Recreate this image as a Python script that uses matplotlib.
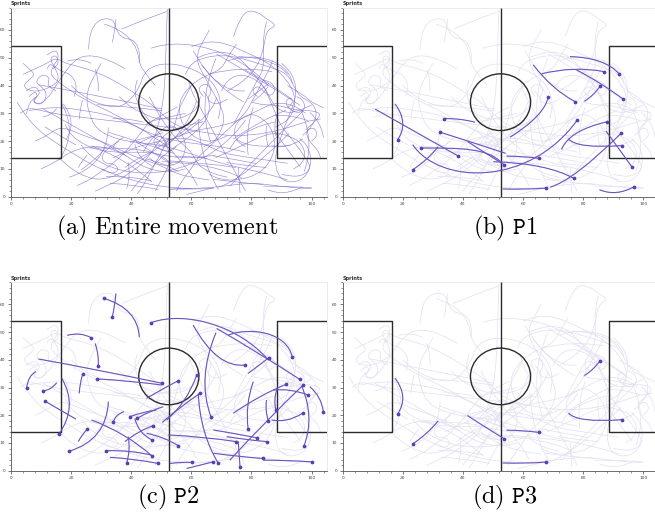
import matplotlib
matplotlib.use("Agg")
import matplotlib.pyplot as plt
from matplotlib.path import Path
from matplotlib.patches import PathPatch, Ellipse
from matplotlib.ticker import MultipleLocator

plt.rcParams['mathtext.fontset'] = 'cm'

# ---------------- data (pitch coordinates, metres) ----------------
pitch_length = 105
pitch_width = 68
box_depth = 16.5
box_bottom = 13.85
box_top = 54.15
circle_radius = 10.0

x_ticks_major = 20
x_ticks_minor = 4
y_ticks_major = 10
y_ticks_minor = 2

# entire movement traces (control points of smooth curves)
movement_paths = [
    [(25.7,53),(26.5,60),(29.5,64),(34,64),(35,60),(37,57),(41,56.5),(43,52),(42.5,48),(45,44),(48,40)],
    [(36.8,60.3),(44,63.5),(51.8,66.6)],
    [(52.0,67.5),(51.6,55),(51.2,40),(50,30),(48,22)],
    [(74,57.6),(76,63.5),(78.5,67),(82,66.5),(85,64),(88.5,61.5),(85,60),(84,53),(82,47),(78,42),(72,38)],
    [(60,54),(66,56),(72,55),(78,52),(86,48),(92,42),(95,35),(93,28),(88,25)],
    [(4,44),(8,46),(12,48),(15,50),(18,48),(22,47),(28,45),(34,42),(40,38),(46,34),(50,30),(54,26),(60,24)],
    [(3,30),(6,32),(10,31),(14,30),(20,29),(28,28),(36,27),(44,26),(52,25),(60,24),(70,22),(80,22),(90,24),(98,27),(103,28)],
    [(5,38),(8,40),(10,37),(7,35),(9,33),(12,35),(15,40),(18,45),(22,50),(27,51),(33,49),(38,46)],
    [(12,51),(15,53),(16,50),(14,47),(13,44),(16,41),(20,38),(26,34),(34,30),(42,25),(48,22),(55,20),(62,19),(70,18),(78,16)],
    [(2,34),(5,29),(9,24),(14,20),(20,16),(26,12),(32,9),(40,6),(48,4),(56,3),(64,3),(72,4),(80,5),(88,4),(96,3),(100,3)],
    [(16,14),(20,10),(25,7),(30,6),(36,8),(42,12),(48,17),(52,20),(56,22),(62,24),(68,25),(75,27),(82,31),(88,34),(94,33),(98,30)],
    [(20,40),(24,36),(30,33),(36,32),(40,35),(43,40),(44,44),(47,47),(52,48),(58,47),(64,44),(68,40),(70,34),(69,28)],
    [(62,50),(67,52),(72,52),(76,50),(80,45),(84,40),(86,35),(88,30),(90,25),(94,20),(98,14),(100,10),(96,7),(90,8)],
    [(58,44),(60,48),(64,50),(70,51),(76,50),(82,48),(88,46),(92,44),(94,40),(96,36),(100,34),(102,30),(100,25),(97,22)],
    [(70,38),(72,42),(76,44),(80,43),(84,40),(86,36),(88,32),(92,30),(96,31),(100,33)],
    [(30,48),(28,44),(26,40),(25,35),(26,30),(28,25),(32,22),(38,20),(46,19),(52,18),(58,16),(64,14),(70,12),(78,10),(86,8),(92,6)],
    [(8,20),(12,22),(16,25),(20,24),(24,22),(30,20),(36,17),(42,14),(48,12),(52,10),(56,8),(60,7),(66,6)],
    [(48,2),(50,6),(52,10),(53,14),(52,18),(50,22),(47,26),(44,30),(42,34),(41,38),(42,42)],
    [(55,2),(57,6),(60,10),(62,14),(66,18),(70,22),(74,26),(78,30),(80,34),(82,38),(84,42),(86,46),(87,49)],
    [(40,2),(42,5),(45,8),(48,12),(52,16),(56,19),(60,22),(64,26),(66,30),(66,35),(64,38)],
    [(62,4),(60,8),(57,12),(54,16),(51,19),(48,21),(44,24),(40,26),(36,28),(30,30),(24,31),(18,32),(12,32),(6,31)],
    [(90,48),(92,46),(94,43),(95,38),(94,33),(92,28),(90,22),(88,16),(88,10),(90,6),(94,5),(98,7),(100,12),(99,18),(96,21)],
    [(66,8),(70,6),(76,6),(82,8),(86,12),(88,18),(87,24),(84,28),(80,30),(76,28),(74,24),(75,20),(78,18)],
    [(44,16),(46,20),(50,24),(53,26),(56,24),(58,20),(58,16),(56,12),(52,11),(48,12),(46,14)],
    [(34,14),(38,16),(42,18),(46,19),(50,20),(54,21),(58,21),(62,20),(66,18),(70,16),(74,15),(80,14),(86,13),(92,12)],
    [(22,4),(26,6),(30,9),(34,12),(38,16),(41,20),(44,24),(46,27),(50,28),(54,29),(58,30)],
    [(60,40),(58,36),(56,32),(55,28),(54,24),(52,20),(50,16),(48,12),(46,8),(44,4),(42,1)],
    [(75,55),(72,50),(70,46),(66,44),(62,42),(58,38),(56,34),(56,30),(57,26),(60,22),(64,20),(68,20),(72,22)],
    [(98,24),(100,26),(102,28),(103,30),(100,31),(96,31),(92,32),(88,33),(84,33),(80,34)],
    [(66,60),(64,56),(62,52),(62,48),(64,44),(66,40),(68,36),(70,32),(71,28),(70,24),(68,20),(64,18)],
    [(85,63),(84,58),(84,52),(84,46),(82,42),(80,38),(78,34),(76,30),(74,26)],
    [(4,48),(6,46),(8,44),(6,42),(4,40),(6,38),(10,38),(14,40),(16,42),(15,46),(13,48),(12,46)],
    [(10,10),(14,12),(18,15),(22,17),(26,18),(30,18),(34,17),(38,15),(42,12),(46,10),(50,9),(54,9),(58,10)],
    [(28,2),(32,4),(36,6),(40,9),(44,12),(46,15),(48,18),(50,21),(52,23),(56,25),(60,26),(64,27)],
    [(68,14),(72,16),(76,18),(80,20),(84,22),(88,23),(92,22),(96,20),(98,16),(97,12),(94,10)],
    [(78,2),(76,6),(74,10),(72,14),(70,18),(68,22),(66,26),(64,30),(62,34),(60,38),(59,42)],
    [(36,36),(40,32),(44,30),(48,28),(52,28),(56,28),(60,30),(62,32),(63,36)],
    [(18,26),(20,22),(24,19),(28,17),(34,16),(40,16),(46,16),(50,15),(56,14),(62,14),(68,15)],
    [(92,40),(95,38),(98,36),(100,34),(102,33),(104,32)],
    [(46,36),(48,32),(50,28),(52,25),(54,22),(56,20),(58,18),(60,16),(62,12),(64,10),(68,8),(72,7)],
    [(6,36),(8,38),(9,36),(7,34),(10,33),(12,36),(11,39),(8,41),(10,44),(13,43),(12,40),(15,38)],
    [(14,46),(16,48),(15,51),(13,50),(14,47),(17,45),(20,44),(22,40),(21,36)],
    [(92,32),(94,34),(93,36),(91,34),(93,31),(96,30),(98,32),(97,35),(95,36)],
    [(82,36),(80,38),(82,40),(84,38),(86,36),(88,38),(87,41),(84,42)],
    [(48,20),(50,18),(52,19),(51,21),(49,22),(47,20),(49,17),(53,16),(55,18)],
    [(30,10),(34,8),(36,10),(34,12),(31,12),(30,15),(33,18),(36,20)],
    [(64,36),(62,39),(65,41),(67,38),(65,35),(68,33),(72,35)],
    [(100,20),(102,22),(101,25),(98,24),(99,20),(102,17),(103,14)],
]

# sprints of phase P1: start, control point(s), end (end marked with a dot)
p1_sprints = [
    [(10.8,31.5),(38.5,14.6)],
    [(17.4,33.4),(22.1,26.6),(18.3,20.5)],
    [(23.3,18.7),(32.4,4.2),(62.3,3.6),(78.1,27.7)],
    [(31.8,18.0),(28.0,13.0),(23.3,9.7)],
    [(41.5,19.9),(47.9,15.3),(53.8,11.5)],
    [(52.3,12.8),(48.0,17.2),(40.0,17.6),(26.1,17.5)],
    [(44.0,26.8),(39.0,28.2),(33.8,28.1)],
    [(54.2,15.6),(43.0,19.6),(32.4,23.2)],
    [(54.5,14.6),(60.0,14.6),(65.3,13.8)],
    [(50.1,12.6),(67.8,12.0),(76.9,6.6)],
    [(55.7,21.4),(67.0,29.1),(68.4,35.8)],
    [(63.4,47.4),(69.8,38.4),(77.3,34.2)],
    [(66.2,44.2),(76.9,47.1),(86.9,45.0)],
    [(75.6,50.4),(87.4,50.0),(92.0,44.1)],
    [(77.8,45.6),(86.0,41.0),(93.3,35.1)],
    [(80.4,34.3),(83.4,36.3),(85.6,39.7)],
    [(72.8,17.0),(75.3,23.8),(87.8,26.9)],
    [(75.1,20.8),(78.0,17.2),(93.0,18.4)],
    [(87.6,23.6),(96.3,10.6)],
    [(69.0,3.4),(77.1,6.1),(92.6,22.8)],
    [(53.2,2.8),(60.5,2.5),(67.6,3.1)],
    [(85.4,2.5),(91.0,0.0),(97.0,3.6)],
]

# sprints of phase P2
p2_sprints = [
    [(42.7,48.1),(42.2,58.4),(31.0,62.1)],
    [(34.9,63.9),(34.6,59.7),(33.7,55.5)],
    [(18.7,48.8),(22.9,50.1),(26.6,48.0)],
    [(28.0,45.9),(29.3,41.7),(29.0,37.9)],
    [(9.1,40.3),(29.6,36.3),(50.3,31.5)],
    [(85.6,39.9),(76.2,51.9),(58.4,57.9),(46.6,53.4)],
    [(68.4,51.3),(82.8,42.3),(96.1,32.9)],
    [(72.3,48.9),(79.5,51.9),(91.8,50.1),(93.6,40.9)],
    [(60.6,52.5),(68.6,36.9),(77.8,38.1)],
    [(68.2,49.8),(61.8,33.2),(66.5,19.5)],
    [(78.9,35.1),(83.4,38.7),(85.7,40.7)],
    [(8.3,35.7),(5.8,34.5),(5.2,29.9)],
    [(15.2,31.7),(13.0,28.8),(10.5,28.8)],
    [(21.6,18.6),(16.3,21.9),(11.3,25.1)],
    [(16.9,33.3),(22.4,23.1),(15.9,13.1)],
    [(22.7,27.9),(22.9,31.5),(23.8,34.7)],
    [(50.1,30.9),(39.6,32.5),(28.5,33.1)],
    [(45.1,26.1),(50.7,29.7),(55.4,32.3)],
    [(32.4,24.9),(31.8,11.1),(19.3,7.0)],
    [(22.4,10.5),(23.5,12.9),(25.4,15.0)],
    [(37.6,21.3),(34.6,20.2),(34.0,17.4)],
    [(48.4,21.9),(44.0,21.3),(39.6,19.5)],
    [(50.7,23.1),(46.2,21.6),(42.0,18.9)],
    [(37.9,10.5),(42.9,14.7),(47.3,16.2)],
    [(41.2,18.9),(42.3,13.5),(46.9,11.1)],
    [(46.8,5.6),(39.6,7.5),(31.6,7.2)],
    [(26.8,18.3),(38.5,13.5),(46.8,5.4)],
    [(32.9,4.8),(40.7,4.4),(49.0,2.6)],
    [(39.0,12.3),(39.8,7.5),(38.5,2.9)],
    [(45.1,13.5),(50.7,12.3),(55.7,9.0)],
    [(52.9,2.6),(56.8,3.2),(60.1,3.0)],
    [(58.4,0.8),(62.9,2.0),(67.3,3.2)],
    [(80.6,32.1),(77.8,23.7),(78.9,15.0)],
    [(52.3,12.9),(64.0,12.3),(74.8,10.5)],
    [(67.3,14.7),(73.9,13.5),(81.7,11.9)],
    [(71.7,12.3),(78.4,11.1),(85.0,10.5)],
    [(75.6,10.5),(75.9,5.6),(76.2,1.4)],
    [(67.3,6.3),(76.2,5.0),(83.9,4.4)],
    [(83.9,3.8),(91.7,3.8),(100.0,3.2)],
    [(85.0,25.5),(84.5,21.9),(85.6,18.0)],
    [(88.4,29.1),(87.3,25.5),(88.1,21.9)],
    [(73.9,20.7),(82.8,27.3),(91.4,31.1)],
    [(86.7,18.3),(91.7,17.1),(97.0,20.7)],
    [(96.7,30.5),(101.1,19.5),(97.5,9.0)],
    [(99.4,30.3),(103.3,26.7),(103.9,21.3)],
    [(87.3,29.1),(93.0,29.7),(98.9,27.3)],
    [(72.8,3.8),(85.0,18.3),(97.2,30.9)],
    [(50.3,17.4),(56.2,23.1),(62.9,27.9)],
    [(51.8,18.3),(58.4,24.3),(61.8,34.5)],
    [(62.3,27.9),(62.9,13.5),(69.0,2.6)],
]

# sprints of phase P3 (a subset of the P1 sprints)
p3_from_p1 = [1, 3, 4, 8, 15, 17, 20]

captions = [r'$\mathrm{(a)\ Entire\ movement}$', r'$\mathrm{(b)}\ \mathtt{P1}$',
            r'$\mathrm{(c)}\ \mathtt{P2}$', r'$\mathrm{(d)}\ \mathtt{P3}$']

# ---------------- styling ----------------
LINE_DARK = '#6b52c2'
LINE_ALL = '#7a62c9'
DOT = '#5a3fb5'
FADED = '#e4e1f1'
PITCH = '#2b2b2b'


def smooth_path(pts):
    verts = [pts[0]]
    codes = [Path.MOVETO]
    if len(pts) == 2:
        verts.append(pts[1]); codes.append(Path.LINETO)
        return Path(verts, codes)
    mids = [((a[0] + b[0]) / 2, (a[1] + b[1]) / 2) for a, b in zip(pts[:-1], pts[1:])]
    verts.append(mids[0]); codes.append(Path.LINETO)
    for i in range(1, len(pts) - 1):
        verts += [pts[i], mids[i]]
        codes += [Path.CURVE3, Path.CURVE3]
    verts.append(pts[-1]); codes.append(Path.LINETO)
    return Path(verts, codes)


def sprint_path(pts):
    if len(pts) == 2:
        return Path(pts, [Path.MOVETO, Path.LINETO])
    if len(pts) == 3:
        return Path(pts, [Path.MOVETO, Path.CURVE3, Path.CURVE3])
    return Path(pts, [Path.MOVETO, Path.CURVE4, Path.CURVE4, Path.CURVE4])


def setup_axes(ax):
    ax.set_xlim(0, pitch_length)
    ax.set_ylim(0, pitch_width)
    ax.xaxis.set_major_locator(MultipleLocator(x_ticks_major))
    ax.xaxis.set_minor_locator(MultipleLocator(x_ticks_minor))
    ax.yaxis.set_major_locator(MultipleLocator(y_ticks_major))
    ax.yaxis.set_minor_locator(MultipleLocator(y_ticks_minor))
    ax.tick_params(which='major', length=2.5, width=0.5, labelsize=3.2,
                   colors='#444444', pad=1.5)
    ax.tick_params(which='minor', length=1.3, width=0.4, colors='#444444')
    for s in ['left', 'bottom']:
        ax.spines[s].set_color('#555555'); ax.spines[s].set_linewidth(0.6)
    for s in ['top', 'right']:
        ax.spines[s].set_color('#e8e8e8'); ax.spines[s].set_linewidth(0.6)
    ax.text(0.0, 1.008, 'Sprints', transform=ax.transAxes, fontsize=3.6,
            fontweight='bold', ha='left', va='bottom', color='#333333')


def draw_pitch(ax):
    kw = dict(color=PITCH, lw=1.0, zorder=3, solid_capstyle='butt')
    ax.plot([pitch_length / 2, pitch_length / 2], [0, pitch_width], **kw)
    ax.plot([0, box_depth, box_depth, 0], [box_top, box_top, box_bottom, box_bottom], **kw)
    ax.plot([pitch_length, pitch_length - box_depth, pitch_length - box_depth, pitch_length],
            [box_top, box_top, box_bottom, box_bottom], **kw)
    ax.add_patch(Ellipse((pitch_length / 2, pitch_width / 2), 2 * circle_radius,
                         2 * circle_radius * 1.02, fill=False, ec=PITCH, lw=1.0, zorder=3))


def draw_background(ax, color, lw, alpha):
    for pts in movement_paths:
        ax.add_patch(PathPatch(smooth_path(pts), fill=False, ec=color, lw=lw,
                               alpha=alpha, zorder=1))
    for pts in p1_sprints + p2_sprints:
        ax.add_patch(PathPatch(sprint_path(pts), fill=False, ec=color, lw=lw,
                               alpha=alpha, zorder=1))


def draw_sprints(ax, sprints):
    for pts in sprints:
        ax.add_patch(PathPatch(sprint_path(pts), fill=False, ec=LINE_DARK, lw=0.8, zorder=4))
        ax.plot([pts[-1][0]], [pts[-1][1]], 'o', ms=1.7, color=DOT, mec=DOT, zorder=5)


fig = plt.figure(figsize=(6.55, 5.20), dpi=100)
W, H = 655.0, 520.0
pxu_x = 3.006
top_row = dict(bottom=(H - 196.7) / H, height=68 * 2.78 / H)
bot_row = dict(bottom=(H - 470.7) / H, height=68 * 2.773 / H)
width = pitch_length * pxu_x / W
positions = [
    [11.0 / W, top_row['bottom'], width, top_row['height']],
    [342.7 / W, top_row['bottom'], width, top_row['height']],
    [11.0 / W, bot_row['bottom'], width, bot_row['height']],
    [342.7 / W, bot_row['bottom'], width, bot_row['height']],
]
axes = [fig.add_axes(p) for p in positions]

# (a) entire movement
draw_background(axes[0], LINE_ALL, 0.45, 0.75)
# (b)-(d) faded movement + sprints
for ax in axes[1:]:
    draw_background(ax, FADED, 0.55, 1.0)
draw_sprints(axes[1], p1_sprints)
draw_sprints(axes[2], p2_sprints)
draw_sprints(axes[3], [p1_sprints[i] for i in p3_from_p1])

for ax in axes:
    setup_axes(ax)
    draw_pitch(ax)

caption_pos = [(167, 228), (505, 228), (168, 497), (505, 497)]
for (cx, cy), cap in zip(caption_pos, captions):
    fig.text(cx / W, 1 - cy / H, cap, ha='center', va='center', fontsize=17.5)

fig.savefig('out.png', dpi=100)
